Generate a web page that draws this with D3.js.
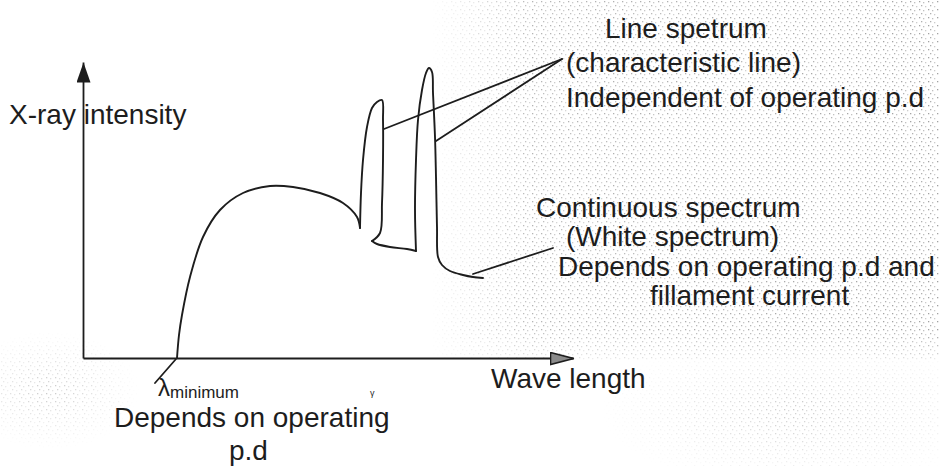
<!DOCTYPE html>
<html>
<head>
<meta charset="utf-8">
<script src="https://cdn.jsdelivr.net/npm/d3@7"></script>
<style>
  html, body { margin: 0; padding: 0; background: #fff; }
  svg { display: block; }
  text { font-family: "Liberation Sans", Arial, sans-serif; fill: #1d1d1d; }
</style>
</head>
<body>
<svg id="chart" width="939" height="466"></svg>
<script>
// X-ray emission spectrum: intensity against wavelength (arbitrary units)

// Continuous (bremsstrahlung) hump, from lambda-min up to the first line
const continuumWave      = [9.4, 9.6, 9.9, 10.7, 12.0, 13.7, 16.0, 18.7, 21.0, 23.7, 26.0, 27.4, 27.7];
const continuumIntensity = [0.0, 2.3, 4.3, 8.1, 12.1, 14.8, 16.5, 17.2, 17.1, 16.5, 15.5, 14.1, 13.0];

// First characteristic line
const line1Wave      = [27.7, 27.8, 28.0, 28.4, 28.9, 29.4, 29.9, 30.0, 30.0, 29.9, 29.7, 28.9];
const line1Intensity = [13.0, 16.5, 19.8, 23.1, 25.0, 25.6, 25.8, 23.8, 19.8, 15.5, 12.5, 11.7];

// Continuum between the two lines
const gapWave      = [28.9, 29.4, 30.7, 32.4, 33.3];
const gapIntensity = [11.7, 11.4, 11.1, 10.9, 10.7];

// Second characteristic line and the long-wavelength tail
const line2Wave      = [33.3, 33.2, 33.3, 33.5, 33.9, 34.3, 34.6, 34.9, 35.0, 35.2, 35.3, 35.4, 35.5, 35.9, 36.7, 38.0, 39.0, 40.0];
const line2Intensity = [10.7, 14.8, 19.8, 23.8, 26.8, 28.5, 29.0, 28.6, 26.5, 22.1, 18.1, 13.1, 10.1, 9.3, 8.7, 8.3, 8.1, 8.0];

// Axis titles
const xTitle = "Wave length";
const yTitle = "X-ray intensity";

// Annotation texts
const lineLabel = ["Line spetrum", "(characteristic line)", "Independent of operating p.d"];
const contLabel = ["Continuous spectrum", "(White spectrum)", "Depends on operating p.d and", "fillament current"];
const lambdaSymbol = "λ";
const lambdaSub = "minimum";
const lambdaNote = ["Depends on operating", "p.d"];

// Leader lines: [from wave, from intensity, to wave, to intensity]
const leaderLine1 = [30.1, 22.9, 47.9, 29.9];
const leaderLine2 = [35.3, 21.7, 47.9, 29.9];
const leaderCont  = [39.0, 8.4, 47.0, 11.0];
const leaderLambda = [7.2, -2.5, 9.3, -0.1];

const svg = d3.select("#chart");
const W = 939, H = 466;

const x = d3.scaleLinear().domain([0, 49]).range([83, 573]);
const y = d3.scaleLinear().domain([0, 29.6]).range([358, 62]);

// faint halftone from the printed page
const defs = svg.append("defs");
const pat = defs.append("pattern")
  .attr("id", "dots").attr("patternUnits", "userSpaceOnUse")
  .attr("width", 9).attr("height", 8);
[[1, 1, "#8c8c8c"], [5, 2, "#b0b0b0"], [3, 5, "#9c9c9c"], [7, 6, "#c0c0c0"]].forEach(([px, py, c]) =>
  pat.append("rect").attr("x", px).attr("y", py).attr("width", 1.3).attr("height", 1.3).attr("fill", c));
const grad = defs.append("linearGradient").attr("id", "fadeL")
  .attr("x1", 0).attr("x2", 1).attr("y1", 0).attr("y2", 0);
grad.append("stop").attr("offset", 0).attr("stop-color", "#fff").attr("stop-opacity", 0);
grad.append("stop").attr("offset", 0.2).attr("stop-color", "#fff").attr("stop-opacity", 0.8);
grad.append("stop").attr("offset", 1).attr("stop-color", "#fff").attr("stop-opacity", 1);
const gradV = defs.append("linearGradient").attr("id", "fadeB")
  .attr("x1", 0).attr("x2", 0).attr("y1", 0).attr("y2", 1);
gradV.append("stop").attr("offset", 0).attr("stop-color", "#fff").attr("stop-opacity", 0);
gradV.append("stop").attr("offset", 1).attr("stop-color", "#fff").attr("stop-opacity", 1);
const gradR = defs.append("radialGradient").attr("id", "spot");
gradR.append("stop").attr("offset", 0).attr("stop-color", "#fff").attr("stop-opacity", 0.6);
gradR.append("stop").attr("offset", 1).attr("stop-color", "#fff").attr("stop-opacity", 0);
const mask = defs.append("mask").attr("id", "haze");
mask.append("rect").attr("x", 430).attr("y", 0).attr("width", 509).attr("height", 300).attr("fill", "url(#fadeL)");
mask.append("rect").attr("x", 430).attr("y", 300).attr("width", 509).attr("height", 60).attr("fill", "url(#fadeL)").attr("mask", null);
mask.append("ellipse").attr("cx", 800).attr("cy", 410).attr("rx", 200).attr("ry", 80).attr("fill", "url(#spot)");
mask.append("ellipse").attr("cx", 50).attr("cy", 390).attr("rx", 90).attr("ry", 60).attr("fill", "url(#spot)");
svg.append("rect").attr("width", W).attr("height", H).attr("fill", "url(#dots)").attr("mask", "url(#haze)").attr("opacity", 0.8);
// soften the lower edge of the upper halftone band
svg.append("rect").attr("x", 430).attr("y", 330).attr("width", 509).attr("height", 30).attr("fill", "url(#fadeB)").attr("opacity", 0.6);

// arrow heads
defs.append("marker").attr("id", "arrowY")
  .attr("viewBox", "0 0 20 14").attr("refX", 20).attr("refY", 7)
  .attr("markerUnits", "userSpaceOnUse").attr("markerWidth", 20).attr("markerHeight", 14)
  .attr("orient", "auto")
  .append("path").attr("d", "M0,0 L20,7 L0,14 Z").attr("fill", "#1d1d1d");
defs.append("marker").attr("id", "arrowX")
  .attr("viewBox", "0 0 24 14").attr("refX", 24).attr("refY", 7)
  .attr("markerUnits", "userSpaceOnUse").attr("markerWidth", 24).attr("markerHeight", 14)
  .attr("orient", "auto")
  .append("path").attr("d", "M1,1 L24,7 L1,13 Z").attr("fill", "#8a8a8a").attr("stroke", "#1d1d1d").attr("stroke-width", 1.6);

// axes (no ticks, just the lines with arrow heads)
const xAxisG = svg.append("g").attr("transform", `translate(0,${y(0)})`)
  .call(d3.axisBottom(x).tickValues([]).tickSizeOuter(0));
xAxisG.select(".domain").attr("stroke", "#1d1d1d").attr("stroke-width", 1.8).attr("marker-end", "url(#arrowX)");
const yAxisG = svg.append("g").attr("transform", `translate(${x(0)},0)`)
  .call(d3.axisLeft(y).tickValues([]).tickSizeOuter(0));
yAxisG.select(".domain").attr("stroke", "#1d1d1d").attr("stroke-width", 1.8).attr("marker-end", "url(#arrowY)");

// spectrum curve
const curve = d3.line().x(d => x(d[0])).y(d => y(d[1])).curve(d3.curveCatmullRom.alpha(0.5));
const segs = [
  [continuumWave, continuumIntensity],
  [line1Wave, line1Intensity],
  [gapWave, gapIntensity],
  [line2Wave, line2Intensity]
];
svg.append("g").selectAll("path").data(segs).join("path")
  .attr("d", s => curve(d3.zip(s[0], s[1])))
  .attr("fill", "none").attr("stroke", "#1d1d1d").attr("stroke-width", 1.9)
  .attr("stroke-linejoin", "round").attr("stroke-linecap", "round");

// leader lines
svg.append("g").selectAll("line").data([leaderLine1, leaderLine2, leaderCont, leaderLambda]).join("line")
  .attr("x1", d => x(d[0])).attr("y1", d => y(d[1]))
  .attr("x2", d => x(d[2])).attr("y2", d => y(d[3]))
  .attr("stroke", "#1d1d1d").attr("stroke-width", 1.8).attr("stroke-linecap", "round");

// labels
const fs = 28;
svg.append("text").attr("x", 9).attr("y", 124).attr("font-size", fs).text(yTitle);
svg.append("text").attr("x", 491).attr("y", 388).attr("font-size", fs).text(xTitle);

const lineLabelPos = [[605, 38], [566, 72], [566, 107]];
svg.append("g").selectAll("text").data(lineLabel).join("text")
  .attr("x", (d, i) => lineLabelPos[i][0]).attr("y", (d, i) => lineLabelPos[i][1])
  .attr("font-size", fs).text(d => d);

const contLabelPos = [[536, 217], [566, 246], [558, 276], [650, 305]];
svg.append("g").selectAll("text").data(contLabel).join("text")
  .attr("x", (d, i) => contLabelPos[i][0]).attr("y", (d, i) => contLabelPos[i][1])
  .attr("font-size", fs).text(d => d);

const lam = svg.append("text").attr("x", 158).attr("y", 396).attr("font-size", 24);
lam.append("tspan").text(lambdaSymbol);
lam.append("tspan").attr("font-size", 17).attr("dy", 2).text(lambdaSub);

svg.append("text").attr("x", 114).attr("y", 427).attr("font-size", fs).text(lambdaNote[0]);
svg.append("text").attr("x", 229).attr("y", 460).attr("font-size", fs).text(lambdaNote[1]);
svg.append("text").attr("x", 370).attr("y", 396).attr("font-size", 9).text("γ");
</script>
</body>
</html>
